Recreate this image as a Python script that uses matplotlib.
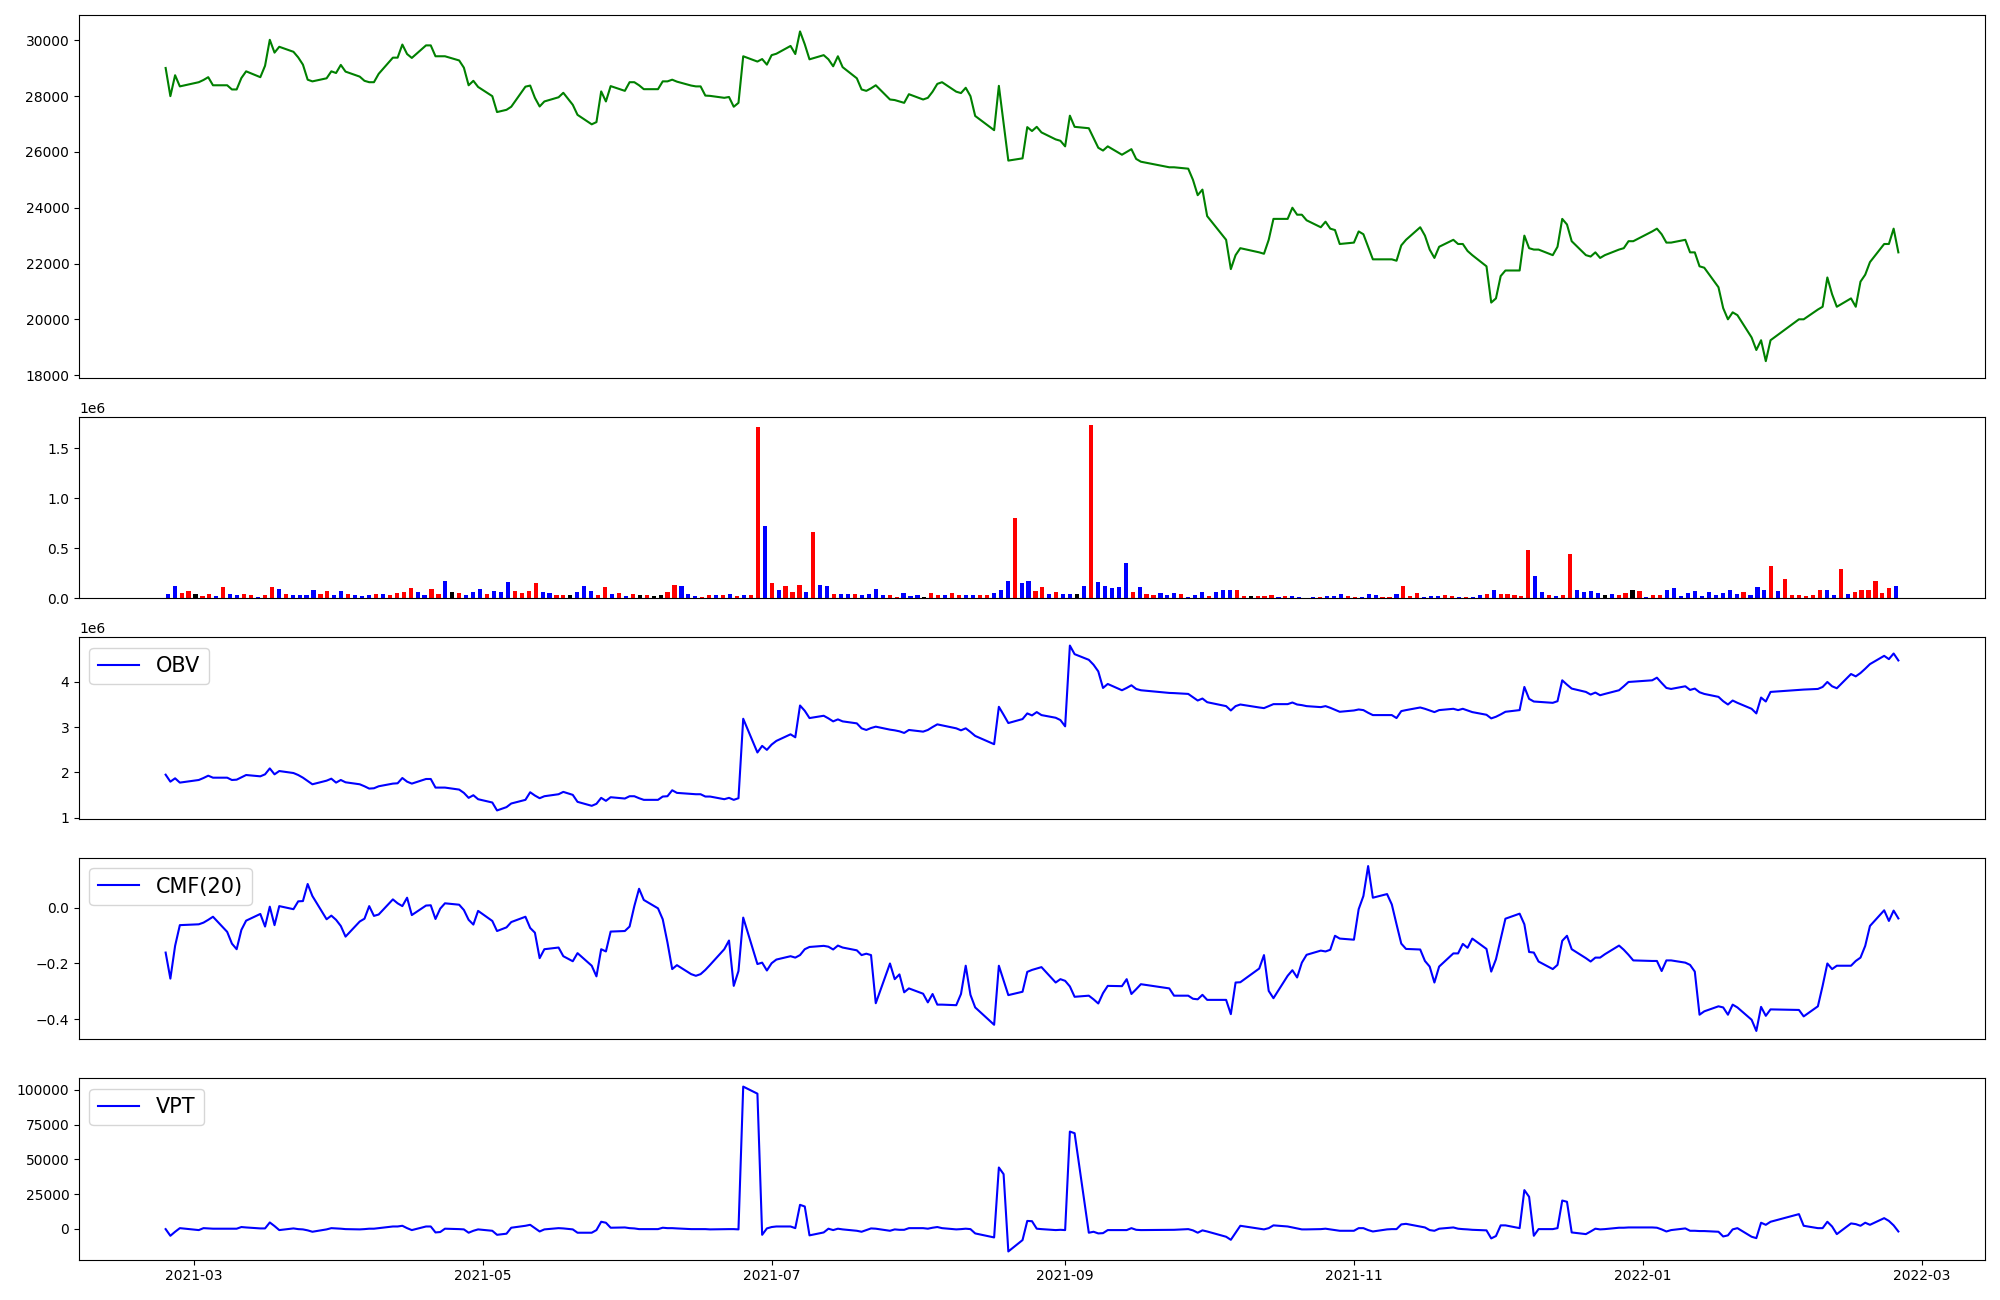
import matplotlib
matplotlib.use("Agg")
import matplotlib.dates as mdates
import matplotlib.pyplot as plt
import numpy as np
import pandas as pd

# trading calendar (KRX) for the period shown
start_day = "2021-02-23"
end_day = "2022-02-24"
market_holidays = ["2021-03-01", "2021-05-05", "2021-05-19", "2021-08-16",
                   "2021-09-20", "2021-09-21", "2021-09-22", "2021-10-04",
                   "2021-10-11", "2021-12-31", "2022-01-31", "2022-02-01",
                   "2022-02-02"]

close_price = [
    29010, 28000, 28750, 28350, 28500, 28580, 28680, 28390, 28390, 28240,
    28240, 28650, 28890, 28680, 29090, 30020, 29560, 29770, 29590, 29390,
    29130, 28590, 28530, 28640, 28890, 28830, 29120, 28880, 28700, 28550,
    28500, 28500, 28800, 29380, 29380, 29850, 29510, 29370, 29820, 29820,
    29430, 29430, 29430, 29280, 29020, 28390, 28550, 28330, 28000, 27430,
    27510, 27620, 28340, 28380, 27940, 27630, 27810, 27960, 28120, 27690,
    27330, 26990, 27070, 28170, 27810, 28360, 28190, 28500, 28500, 28390,
    28250, 28250, 28530, 28530, 28590, 28520, 28380, 28350, 28350, 28020,
    28010, 27940, 27970, 27620, 27760, 29430, 29240, 29330, 29130, 29470,
    29520, 29800, 29510, 30320, 29860, 29320, 29470, 29320, 29070, 29430,
    29040, 28640, 28240, 28190, 28280, 28390, 27880, 27860, 27810, 27760,
    28070, 27880, 27940, 28160, 28440, 28500, 28160, 28110, 28300, 28000,
    27290, 26780, 28370, 27030, 25690, 25770, 26890, 26750, 26900, 26700,
    26450, 26400, 26200, 27300, 26900, 26850, 26500, 26150, 26050, 26200,
    25900, 26000, 26100, 25750, 25650, 25450, 25450, 25400, 25000, 24450,
    24650, 23700, 22850, 21800, 22300, 22550, 22400, 22350, 22850, 23600,
    23600, 24000, 23750, 23750, 23550, 23300, 23500, 23250, 23200, 22700,
    22750, 23150, 23050, 22600, 22150, 22150, 22150, 22100, 22650, 22850,
    23300, 23000, 22500, 22200, 22600, 22850, 22700, 22700, 22450, 22300,
    21900, 20600, 20750, 21550, 21750, 21750, 23000, 22550, 22500, 22500,
    22300, 22600, 23600, 23400, 22800, 22300, 22250, 22400, 22200, 22300,
    22500, 22550, 22800, 22800, 23150, 23250, 23050, 22750, 22750, 22850,
    22400, 22400, 21900, 21850, 21150, 20400, 20000, 20250, 20150, 19350,
    18900, 19250, 18500, 19250, 20000, 20000, 20350, 20450, 21500, 20900,
    20450, 20750, 20450, 21350, 21600, 22050, 22700, 22700, 23250, 22400,
]

volume = [
    42000, 123000, 52000, 72000, 42000, 22000, 42000, 22000, 113000, 42000,
    32000, 42000, 32000, 12000, 32000, 113000, 92000, 42000, 32000, 32000,
    32000, 82000, 42000, 72000, 32000, 72000, 42000, 32000, 22000, 32000,
    42000, 42000, 32000, 52000, 62000, 103000, 62000, 32000, 92000, 42000,
    173000, 62000, 52000, 32000, 62000, 92000, 42000, 72000, 62000, 163000,
    72000, 52000, 72000, 153000, 62000, 52000, 32000, 32000, 32000, 62000,
    123000, 72000, 32000, 113000, 42000, 52000, 22000, 42000, 32000, 32000,
    22000, 32000, 62000, 133000, 123000, 42000, 22000, 12000, 32000, 32000,
    32000, 42000, 22000, 32000, 32000, 1711000, 726000, 153000, 82000, 123000,
    62000, 133000, 62000, 666000, 133000, 123000, 42000, 42000, 42000, 42000,
    32000, 42000, 92000, 32000, 32000, 12000, 52000, 22000, 32000, 12000,
    52000, 32000, 32000, 52000, 32000, 32000, 32000, 32000, 32000, 52000,
    82000, 173000, 806000, 153000, 173000, 72000, 113000, 42000, 62000, 42000,
    42000, 42000, 123000, 1731000, 163000, 123000, 103000, 113000, 354000, 62000,
    113000, 42000, 32000, 52000, 32000, 52000, 42000, 12000, 32000, 62000,
    22000, 62000, 82000, 82000, 82000, 22000, 22000, 22000, 22000, 32000,
    12000, 22000, 22000, 12000, 5000, 12000, 12000, 22000, 22000, 42000,
    22000, 12000, 12000, 42000, 32000, 12000, 12000, 42000, 123000, 22000,
    52000, 12000, 22000, 22000, 32000, 22000, 12000, 12000, 12000, 32000,
    42000, 82000, 42000, 42000, 32000, 22000, 485000, 223000, 62000, 32000,
    22000, 32000, 444000, 82000, 62000, 72000, 52000, 32000, 42000, 32000,
    52000, 82000, 72000, 12000, 32000, 32000, 82000, 103000, 22000, 52000,
    72000, 22000, 62000, 32000, 52000, 82000, 42000, 62000, 32000, 113000,
    82000, 324000, 72000, 193000, 32000, 32000, 22000, 32000, 82000, 82000,
    32000, 294000, 42000, 62000, 82000, 82000, 173000, 52000, 103000, 123000,
]

# r = up, b = down, k = unchanged
volume_codes = (
    "bbrrkrrbrb" "brrbrrbrbb" "bbrrbbrbbb" "rbrrrrbbrr" "bkrbbbrbbb"
    "rrrrbbrrkb" "bbrrbrbrkr" "kkrrbbbrrb" "rbrbrrbrbr" "rrbrbbrbbr"
    "bbbbrrbbbk" "rrbrrbbrrb" "bbrbbrrbrb" "bkbrbbbbbr" "brrbbbrbbb"
    "rbbbrrkrrr" "brbbbbrbbb" "rrbbbrrbrr" "rbbbrrbrbb" "rbrrrrrbbr"
    "brrbbbbkbr" "rkrbrrbbbb" "bbbbbbbrbb" "brbrrrrrrb" "brbrrrrrrb"
)

obv_millions = [
    1.950, 1.796, 1.870, 1.775, 1.833, 1.877, 1.928, 1.884, 1.884, 1.833,
    1.840, 1.892, 1.943, 1.914, 1.958, 2.089, 1.958, 2.031, 1.987, 1.943,
    1.884, 1.811, 1.738, 1.818, 1.862, 1.775, 1.833, 1.782, 1.738, 1.694,
    1.643, 1.650, 1.694, 1.753, 1.760, 1.877, 1.796, 1.753, 1.855, 1.855,
    1.665, 1.665, 1.665, 1.621, 1.548, 1.438, 1.496, 1.408, 1.335, 1.160,
    1.233, 1.313, 1.394, 1.562, 1.489, 1.430, 1.474, 1.518, 1.570, 1.504,
    1.350, 1.262, 1.306, 1.438, 1.372, 1.452, 1.423, 1.474, 1.474, 1.430,
    1.394, 1.394, 1.467, 1.474, 1.606, 1.548, 1.526, 1.518, 1.518, 1.467,
    1.467, 1.408, 1.438, 1.394, 1.430, 3.187, 2.441, 2.587, 2.499, 2.616,
    2.697, 2.843, 2.777, 3.480, 3.363, 3.202, 3.253, 3.195, 3.129, 3.173,
    3.129, 3.085, 2.975, 2.939, 2.982, 3.012, 2.946, 2.931, 2.909, 2.873,
    2.939, 2.902, 2.939, 3.004, 3.063, 3.041, 2.975, 2.931, 2.975, 2.895,
    2.807, 2.624, 3.451, 3.275, 3.092, 3.180, 3.305, 3.261, 3.334, 3.268,
    3.209, 3.158, 3.019, 4.805, 4.615, 4.490, 4.381, 4.234, 3.868, 3.956,
    3.817, 3.868, 3.927, 3.846, 3.817, 3.758, 3.754, 3.736, 3.663, 3.590,
    3.634, 3.553, 3.466, 3.370, 3.466, 3.502, 3.436, 3.422, 3.466, 3.510,
    3.510, 3.546, 3.502, 3.488, 3.466, 3.444, 3.466, 3.429, 3.385, 3.341,
    3.370, 3.392, 3.378, 3.319, 3.268, 3.268, 3.268, 3.202, 3.356, 3.378,
    3.436, 3.407, 3.370, 3.334, 3.378, 3.407, 3.378, 3.407, 3.370, 3.334,
    3.275, 3.195, 3.231, 3.283, 3.341, 3.378, 3.890, 3.627, 3.568, 3.561,
    3.539, 3.575, 4.037, 3.941, 3.854, 3.780, 3.722, 3.766, 3.707, 3.736,
    3.817, 3.905, 4.000, 4.007, 4.037, 4.095, 3.978, 3.868, 3.846, 3.905,
    3.824, 3.854, 3.773, 3.736, 3.671, 3.575, 3.502, 3.590, 3.539, 3.407,
    3.305, 3.656, 3.568, 3.780, 3.824, 3.832, 3.846, 3.890, 4.000, 3.905,
    3.861, 4.176, 4.124, 4.198, 4.293, 4.395, 4.578, 4.505, 4.630, 4.476,
]

cmf_20 = [
    -0.161, -0.254, -0.137, -0.063, -0.060, -0.054, -0.044, -0.033, -0.087, -0.129,
    -0.149, -0.080, -0.047, -0.023, -0.068, 0.003, -0.063, 0.005, -0.006, 0.022,
    0.023, 0.084, 0.041, -0.042, -0.029, -0.044, -0.066, -0.104, -0.050, -0.040,
    0.005, -0.030, -0.025, 0.029, 0.015, 0.005, 0.035, -0.027, 0.007, 0.008,
    -0.041, -0.004, 0.015, 0.010, -0.009, -0.044, -0.061, -0.012, -0.048, -0.084,
    -0.071, -0.052, -0.033, -0.073, -0.090, -0.181, -0.149, -0.143, -0.174, -0.192,
    -0.163, -0.208, -0.246, -0.149, -0.157, -0.086, -0.084, -0.068, 0.005, 0.067,
    0.027, -0.003, -0.042, -0.125, -0.220, -0.206, -0.238, -0.244, -0.238, -0.223,
    -0.205, -0.149, -0.118, -0.280, -0.227, -0.036, -0.202, -0.197, -0.225, -0.199,
    -0.186, -0.174, -0.179, -0.170, -0.149, -0.141, -0.137, -0.140, -0.150, -0.136,
    -0.143, -0.153, -0.170, -0.165, -0.170, -0.342, -0.200, -0.256, -0.239, -0.303,
    -0.289, -0.308, -0.339, -0.309, -0.347, -0.347, -0.349, -0.309, -0.208, -0.312,
    -0.357, -0.419, -0.208, -0.261, -0.313, -0.301, -0.230, -0.223, -0.218, -0.213,
    -0.268, -0.256, -0.262, -0.282, -0.319, -0.315, -0.328, -0.343, -0.306, -0.280,
    -0.281, -0.256, -0.309, -0.292, -0.274, -0.289, -0.315, -0.315, -0.326, -0.328,
    -0.312, -0.330, -0.330, -0.381, -0.268, -0.267, -0.218, -0.170, -0.298, -0.324,
    -0.244, -0.224, -0.250, -0.197, -0.169, -0.154, -0.157, -0.151, -0.101, -0.111,
    -0.115, -0.006, 0.041, 0.148, 0.035, 0.048, 0.011, -0.060, -0.129, -0.148,
    -0.150, -0.191, -0.211, -0.268, -0.211, -0.164, -0.164, -0.130, -0.144, -0.111,
    -0.148, -0.229, -0.185, -0.113, -0.040, -0.022, -0.060, -0.159, -0.161, -0.193,
    -0.220, -0.205, -0.119, -0.101, -0.149, -0.181, -0.193, -0.179, -0.179, -0.167,
    -0.136, -0.151, -0.169, -0.189, -0.191, -0.191, -0.227, -0.189, -0.189, -0.197,
    -0.205, -0.229, -0.383, -0.371, -0.353, -0.357, -0.383, -0.347, -0.357, -0.401,
    -0.441, -0.355, -0.387, -0.364, -0.366, -0.389, -0.353, -0.280, -0.200, -0.220,
    -0.208, -0.208, -0.191, -0.179, -0.137, -0.066, -0.010, -0.048, -0.011, -0.039,
]

vpt = [
    -300, -5100, -2200, 400, -1000, 400, 200, 0, 0, 0,
    0, 1200, 900, 200, 200, 4500, 1900, -1000, 200, -300,
    -500, -1200, -2200, -500, 400, 200, 0, -300, -500, -300,
    0, 0, 400, 1600, 1600, 2100, 400, -1000, 1600, 1600,
    -2700, -2400, 0, -300, -500, -2900, -1500, -500, -1500, -4400,
    -3600, 700, 2100, 2800, 400, -2000, -500, 400, 200, -500,
    -2900, -2900, -1000, 5000, 4300, 700, 900, 400, 200, -300,
    -300, -300, 700, 400, 400, 200, -300, -300, -300, -300,
    -500, -300, -300, -300, -500, 102400, 97300, -4400, 200, 1200,
    1600, 1600, 400, 17200, 16000, -4800, -2700, 0, -1000, 0,
    -500, -1500, -2200, -1000, 200, 0, -1500, -500, -800, -800,
    400, 400, 0, 700, 1200, 400, -500, -300, 0, -300,
    -3400, -6300, 44100, 39300, -16400, -8200, 5600, 5400, 0, -300,
    -1000, -800, -1000, 70000, 68800, -2900, -2200, -3400, -3200, -1000,
    -1000, -1000, 400, -800, -1000, -800, -800, -300, -1200, -2900,
    -1200, -2000, -5800, -8000, -2900, 2100, 0, -500, 400, 2400,
    1600, 900, 200, -500, -500, -300, 0, -500, -1000, -1500,
    -1500, 400, 400, -1000, -2000, -500, -300, -300, 3100, 3500,
    1600, 900, -1000, -1500, 0, 900, 0, -300, -500, -800,
    -1200, -7000, -5300, 2400, 2400, 400, 27800, 23000, -5100, -300,
    -300, 400, 20300, 19400, -2700, -3900, -2000, 0, -500, -300,
    700, 700, 900, 900, 900, 700, -500, -2000, -1000, 200,
    -1500, -1500, -1700, -1700, -2200, -5600, -4800, -500, 400, -5800,
    -6800, 4300, 2800, 5000, 10500, 2100, 400, 400, 5000, 1600,
    -3900, 3800, 3300, 2100, 4300, 2800, 7600, 5600, 2400, -2000,
]


def trading_days(first, last, holidays):
    days = pd.bdate_range(first, last)
    return days[~days.isin(pd.to_datetime(holidays))]


def show_line(plot, dates, values, color, label=None):
    plot.plot(dates, values, color=color, linewidth=1.5, label=label)
    if label:
        plot.legend(loc="upper left", fontsize=15)


def show_volume(plot, values, codes):
    colors = {"r": "red", "b": "blue", "k": "black"}
    bar_colors = [colors[c] for c in codes]
    plot.bar(np.arange(len(values)), values, width=0.6, color=bar_colors)
    plot.set_xticks([])


def main():
    dates = trading_days(start_day, end_day, market_holidays)

    fig = plt.figure(figsize=(20, 13), dpi=100)
    grid = fig.add_gridspec(5, 1, height_ratios=[2, 1, 1, 1, 1],
                            left=0.0395, right=0.9925, top=0.9885,
                            bottom=0.031, hspace=0.18)
    ax_price = fig.add_subplot(grid[0])
    ax_vol = fig.add_subplot(grid[1])
    ax_obv = fig.add_subplot(grid[2])
    ax_cmf = fig.add_subplot(grid[3])
    ax_vpt = fig.add_subplot(grid[4])

    show_line(ax_price, dates, close_price, "green")
    show_volume(ax_vol, volume, volume_codes)
    show_line(ax_obv, dates, np.array(obv_millions) * 1e6, "blue", "OBV")
    show_line(ax_cmf, dates, cmf_20, "blue", "CMF(20)")
    show_line(ax_vpt, dates, vpt, "blue", "VPT")

    for plot in (ax_price, ax_obv, ax_cmf):
        plot.set_xticks([])

    ax_vpt.xaxis.set_major_locator(mdates.MonthLocator(bymonth=[1, 3, 5, 7, 9, 11]))
    ax_vpt.xaxis.set_major_formatter(mdates.DateFormatter("%Y-%m"))

    fig.savefig("out.png", dpi=100)


if __name__ == "__main__":
    main()
